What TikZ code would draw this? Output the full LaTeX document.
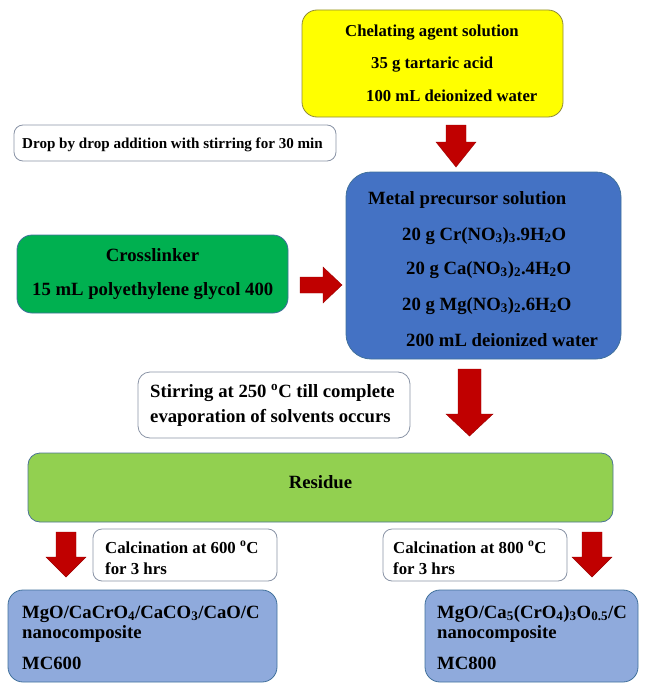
\documentclass[tikz,border=0pt]{standalone}
\usepackage{fontspec}
\setmainfont{Liberation Serif}
\definecolor{cyellow}{HTML}{FFFF00}
\definecolor{cblue}{HTML}{4472C4}
\definecolor{cgreen}{HTML}{00B050}
\definecolor{clime}{HTML}{92D050}
\definecolor{clight}{HTML}{8FAADC}
\definecolor{cred}{HTML}{C00000}
\definecolor{cborder}{HTML}{41719C}
\definecolor{cgrayb}{HTML}{8A94A6}
\begin{document}
\begin{tikzpicture}[x=1pt,y=-1pt,
  panel/.style={rounded corners=#1, line width=0.8pt, inner sep=0pt, outer sep=0pt},
  wbox/.style={panel=9pt, draw=cgrayb, fill=white},
  txt/.style={anchor=base west, inner sep=0pt, font=\bfseries\fontsize{18.7}{20}\selectfont},
  txtc/.style={anchor=base, inner sep=0pt, font=\bfseries\fontsize{18.7}{20}\selectfont},
  blockarrow/.style={fill=cred, draw=cred!80!black, line width=0.4pt}]
\useasboundingbox (0,0) rectangle (648,685);
% boxes
\draw[panel=15pt, draw=olive!60!gray, fill=cyellow] (302,10) rectangle (563,117);
\draw[wbox] (14,125) rectangle (336,161);
\draw[panel=25pt, draw=cborder, fill=cblue] (346,172) rectangle (621,359);
\draw[panel=15pt, draw=cborder, fill=cgreen] (17,235) rectangle (288,313);
\draw[wbox, rounded corners=12pt] (138,372) rectangle (410,438);
\draw[panel=12pt, draw=cborder!80!gray, fill=clime] (28,453) rectangle (613,522);
\draw[wbox] (93,529) rectangle (277,581);
\draw[wbox] (383,529) rectangle (567,581);
\draw[panel=15pt, draw=cborder, fill=clight] (8,590) rectangle (277,682);
\draw[panel=15pt, draw=cborder, fill=clight] (425,590) rectangle (638,682);
% arrows
\draw[blockarrow] (446,125) -- (466,125) -- (466,142) -- (476,142) -- (456,167) -- (436,142) -- (446,142) -- cycle;
\draw[blockarrow] (300,277) -- (323,277) -- (323,267) -- (342,285) -- (323,303) -- (323,293) -- (300,293) -- cycle;
\draw[blockarrow] (458,369) -- (481,369) -- (481,414) -- (493,414) -- (469.5,436) -- (446,414) -- (458,414) -- cycle;
\draw[blockarrow] (56,532) -- (76,532) -- (76,557) -- (86,557) -- (66,577) -- (46,557) -- (56,557) -- cycle;
\draw[blockarrow] (582,532) -- (602,532) -- (602,557) -- (612,557) -- (592,577) -- (572,557) -- (582,557) -- cycle;
% texts
\begin{scope}[every node/.append style={font=\bfseries\fontsize{16.7}{18}\selectfont}]
\node[txt, font=\bfseries\fontsize{16.7}{18}\selectfont] (t1) at (345,37) {Chelating agent solution};
\node[txt, font=\bfseries\fontsize{16.7}{18}\selectfont] (t2) at (371,68.5) {35 g tartaric acid};
\node[txt, font=\bfseries\fontsize{16.7}{18}\selectfont] (t3) at (366,101.5) {100 mL deionized water};
\end{scope}
\node[txt, font=\bfseries\fontsize{15.1}{17}\selectfont] (t4) at (22,148) {Drop by drop addition with stirring for 30 min};
\node[txt] (t5) at (368,204) {Metal precursor solution};
\node[txt] (t6) at (402,240) {20 g Cr(NO\textsubscript{3})\textsubscript{3}.9H\textsubscript{2}O};
\node[txt] (t7) at (406,274) {20 g Ca(NO\textsubscript{3})\textsubscript{2}.4H\textsubscript{2}O};
\node[txt] (t8) at (402,310) {20 g Mg(NO\textsubscript{3})\textsubscript{2}.6H\textsubscript{2}O};
\node[txt] (t9) at (406,346) {200 mL deionized water};
\node[txtc] (t10) at (152.5,261) {Crosslinker};
\node[txt] (t11) at (32,295) {15 mL polyethylene glycol 400};
\node[txt] (t12) at (150,397) {Stirring at 250 \textsuperscript{o}C till complete};
\node[txt] (t13) at (150,422) {evaporation of solvents occurs};
\node[txtc] (t14) at (320.5,488) {Residue};
\node[txt, font=\bfseries\fontsize{16.8}{18}\selectfont] (t15) at (105,553) {Calcination at 600 \textsuperscript{o}C};
\node[txt, font=\bfseries\fontsize{16.8}{18}\selectfont] (t16) at (105,574) {for 3 hrs};
\node[txt, font=\bfseries\fontsize{16.8}{18}\selectfont] (t17) at (393,553) {Calcination at 800 \textsuperscript{o}C};
\node[txt, font=\bfseries\fontsize{16.8}{18}\selectfont] (t18) at (393,574) {for 3 hrs};
\node[txt] (t19) at (22,618) {MgO/CaCrO\textsubscript{4}/CaCO\textsubscript{3}/CaO/C};
\node[txt] (t20) at (22,638) {nanocomposite};
\node[txt] (t21) at (22,669) {MC600};
\node[txt] (t22) at (437,618) {MgO/Ca\textsubscript{5}(CrO\textsubscript{4})\textsubscript{3}O\textsubscript{0.5}/C};
\node[txt] (t23) at (437,638) {nanocomposite};
\node[txt] (t24) at (437,669) {MC800};
\end{tikzpicture}
\end{document}
